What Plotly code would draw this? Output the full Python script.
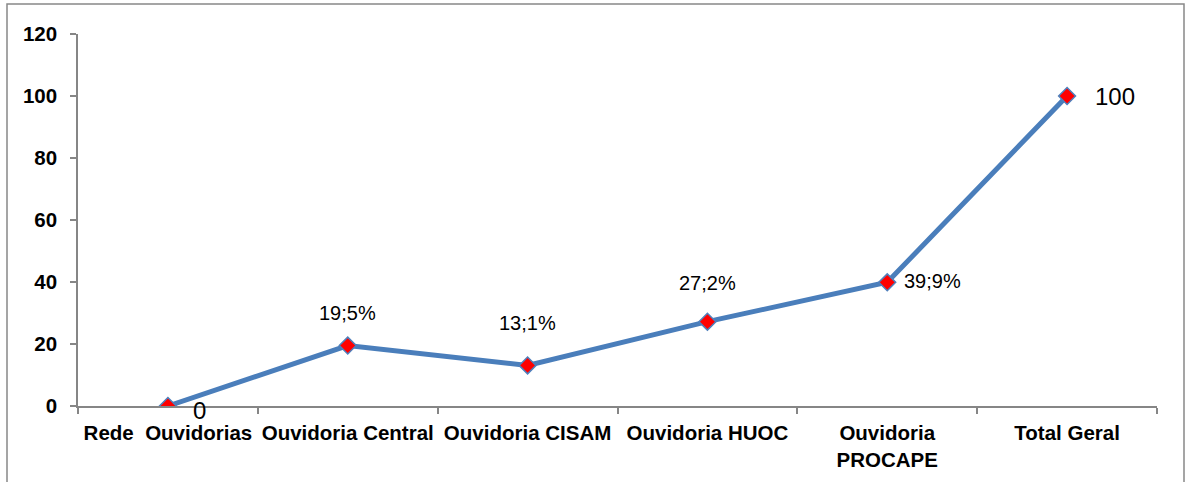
import plotly.graph_objects as go

categories = ["Rede  Ouvidorias", "Ouvidoria Central", "Ouvidoria CISAM",
              "Ouvidoria HUOC", "Ouvidoria<br>PROCAPE", "Total Geral"]
values = [0, 19.5, 13.1, 27.2, 39.9, 100]
value_labels = ["0", "19;5%", "13;1%", "27;2%", "39;9%", "100"]
y_ticks = [0, 20, 40, 60, 80, 100, 120]

# label placement (styles)
label_dx = [32, 0, 0, 0, 45, 48]
label_dy = [-4, 33, 42, 39, 1, 0]
label_size = [24, 20, 20, 20, 20, 24]

FONT = "Liberation Sans, Arial, sans-serif"
AXIS_COLOR = "#868686"

fig = go.Figure()
fig.add_trace(go.Scatter(
    x=categories, y=values, mode="lines+markers",
    line=dict(color="#4A7EBB", width=5),
    marker=dict(symbol="diamond", size=13, color="#FF0000",
                line=dict(color="#4F81BD", width=1.5)),
    hoverinfo="x+y", showlegend=False,
))

for c, v, t, dx, dy, fs in zip(categories, values, value_labels, label_dx, label_dy, label_size):
    fig.add_annotation(x=c, y=v, text=t, showarrow=False,
                       xshift=dx, yshift=dy,
                       font=dict(family=FONT, size=fs, color="#000000"))

# outer chart frame
fig.add_shape(type="rect", xref="paper", yref="paper",
              x0=(7 - 78) / 1079, x1=(1184 - 78) / 1079,
              y0=-0.5, y1=(406 - 4) / 372,
              line=dict(color="#888888", width=1.5), fillcolor="rgba(0,0,0,0)",
              layer="below")

fig.update_layout(
    width=1187, height=482, autosize=False,
    margin=dict(l=78, r=30, t=34, b=76, pad=0),
    paper_bgcolor="white", plot_bgcolor="white",
    font=dict(family=FONT, color="#000000"),
    xaxis=dict(type="category", range=[-0.5, 5.5], tickson="boundaries",
               tickangle=0, automargin=False,
               showline=True, linecolor=AXIS_COLOR, linewidth=1.5,
               ticks="outside", ticklen=6, tickcolor=AXIS_COLOR, tickwidth=1.5,
               showgrid=False, zeroline=False, ticklabelstandoff=8,
               tickfont=dict(family=FONT, size=20.5, color="#000000", weight="bold")),
    yaxis=dict(range=[0, 120], tickvals=y_ticks, ticktext=[str(v) for v in y_ticks],
               automargin=False,
               showline=True, linecolor=AXIS_COLOR, linewidth=1.5,
               ticks="outside", ticklen=6, tickcolor=AXIS_COLOR, tickwidth=1.5,
               showgrid=False, zeroline=False, ticklabelstandoff=9,
               tickfont=dict(family=FONT, size=20.5, color="#000000", weight="bold")),
)

fig.write_html("out.html", config={"displayModeBar": False},
               post_script="document.body.style.margin='0';")
